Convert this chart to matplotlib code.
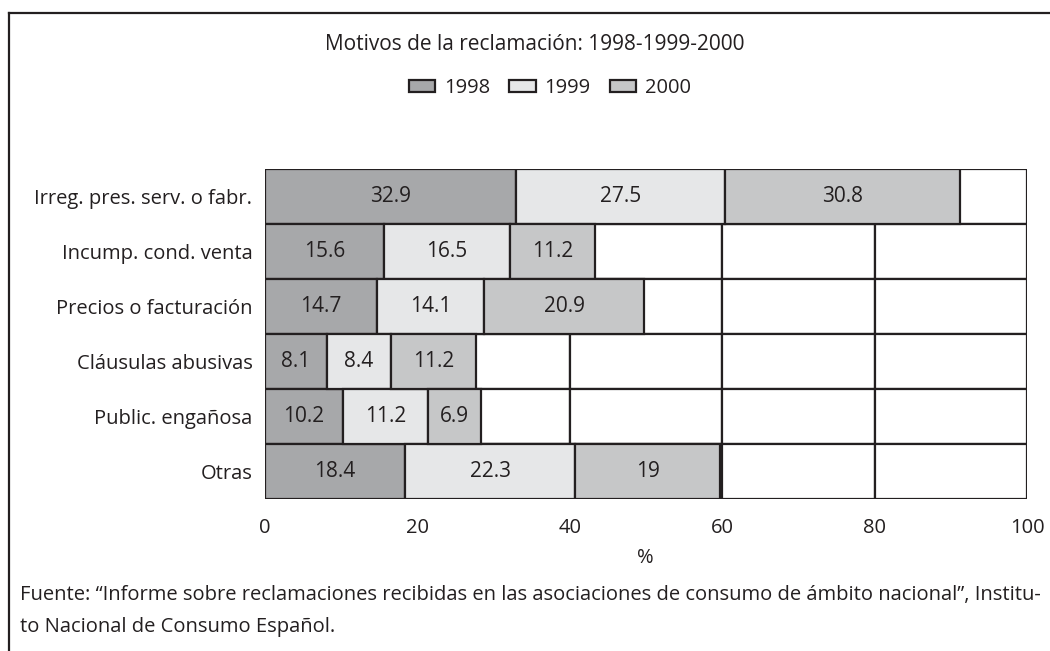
import matplotlib
matplotlib.use("Agg")
import matplotlib.pyplot as plt
from matplotlib.patches import Patch
from matplotlib.lines import Line2D

plt.rcParams['font.family'] = ['Open Sans', 'DejaVu Sans']

categories = ["Irreg. pres. serv. o fabr.", "Incump. cond. venta", "Precios o facturación",
              "Cláusulas abusivas", "Public. engañosa", "Otras"]
years = ["1998", "1999", "2000"]
v1998 = [32.9, 15.6, 14.7, 8.1, 10.2, 18.4]
v1999 = [27.5, 16.5, 14.1, 8.4, 11.2, 22.3]
v2000 = [30.8, 11.2, 20.9, 11.2, 6.9, 19]
ticks = [0, 20, 40, 60, 80, 100]

series = [v1998, v1999, v2000]
colors = ["#a7a8aa", "#e6e7e8", "#c6c7c8"]
ink = "#231f20"
fs = 14.5

fig = plt.figure(figsize=(10.5, 6.51), dpi=100)
ax = fig.add_axes([265 / 1050, 1 - 499 / 651, (1027 - 265) / 1050, 330 / 651])

n = len(categories)
ypos = list(range(n))[::-1]

# white grid cells behind the bars
for y in ypos:
    for a, b in zip(ticks[:-1], ticks[1:]):
        ax.barh(y, b - a, left=a, height=1.0, color="white", edgecolor=ink,
                linewidth=1.6, zorder=1)

left = [0.0] * n
for vals, col in zip(series, colors):
    ax.barh(ypos, vals, left=left, height=1.0, color=col, edgecolor=ink,
            linewidth=1.6, zorder=2)
    for y, l, v in zip(ypos, left, vals):
        ax.text(l + v / 2, y, f"{v:g}", ha="center", va="center", fontsize=15,
                color=ink, zorder=3)
    left = [l + v for l, v in zip(left, vals)]

ax.set_xlim(0, 100)
ax.set_ylim(-0.5, n - 0.5)
ax.set_xticks(ticks)
ax.set_xticklabels([str(t) for t in ticks], fontsize=fs, color=ink)
ax.set_yticks(ypos)
ax.set_yticklabels(categories, fontsize=fs, color=ink)
ax.tick_params(axis="both", length=0)
ax.tick_params(axis="x", pad=14)
ax.tick_params(axis="y", pad=9)
for s in ax.spines.values():
    s.set_visible(False)
ax.set_facecolor("none")

fig.text(645 / 1050, 1 - 558 / 651, "%", ha="center", va="center", fontsize=fs, color=ink)
fig.text(535 / 1050, 1 - 45 / 651, "Motivos de la reclamación: 1998-1999-2000",
         ha="center", va="center", fontsize=15, color=ink)

handles = [Patch(facecolor=c, edgecolor=ink, linewidth=1.6) for c in colors]
fig.legend(handles, years, loc="center", bbox_to_anchor=(550 / 1050, 1 - 88 / 651),
           ncol=3, frameon=False, fontsize=fs, handlelength=1.3, handleheight=0.55,
           handletextpad=0.45, columnspacing=0.95, labelcolor=ink)

fig.text(20 / 1050, 1 - 595 / 651,
         "Fuente: \u201cInforme sobre reclamaciones recibidas en las asociaciones de consumo de ámbito nacional\u201d, Institu-",
         ha="left", va="center", fontsize=fs, color=ink)
fig.text(20 / 1050, 1 - 627 / 651, "to Nacional de Consumo Español.",
         ha="left", va="center", fontsize=fs, color=ink)

# frame lines along top and left edges
fig.add_artist(Line2D([8.5 / 1050, 1.0], [1 - 12.5 / 651, 1 - 12.5 / 651],
                      color=ink, linewidth=1.6, transform=fig.transFigure))
fig.add_artist(Line2D([8.5 / 1050, 8.5 / 1050], [0, 1 - 12.5 / 651],
                      color=ink, linewidth=1.6, transform=fig.transFigure))

fig.savefig("out.png", dpi=100, facecolor="white")
